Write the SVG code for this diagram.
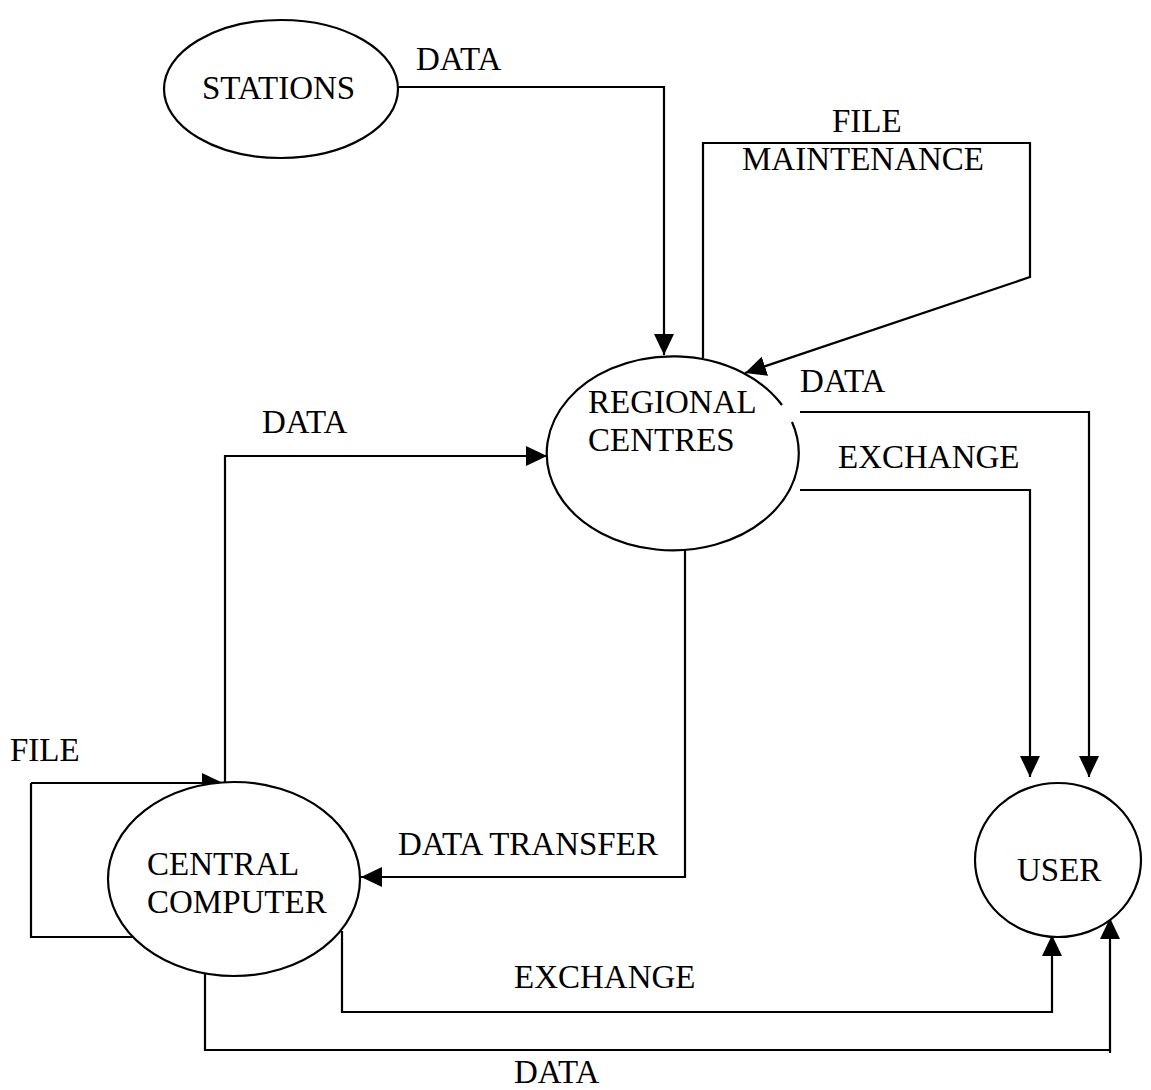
<svg xmlns="http://www.w3.org/2000/svg" width="1151" height="1090" viewBox="0 0 1151 1090">
<defs>
<marker id="arr" markerUnits="userSpaceOnUse" markerWidth="24" markerHeight="22" refX="21" refY="10" orient="auto">
<path d="M0,0 L21,10 L0,20 Z" fill="#000"/>
</marker>
<style>
.node{fill:#fff;stroke:#000;stroke-width:2.2}
.edge{fill:none;stroke:#000;stroke-width:2.2}
text{font-family:"Liberation Serif","Times New Roman",serif;font-size:33px;fill:#000}
</style>
</defs>
<rect width="1151" height="1090" fill="#fff"/>
<g id="connectors">
<path class="edge" d="M398,87 H664 V355" marker-end="url(#arr)"/>
<path class="edge" d="M703,358 V143 H1030 V277 L745,373" marker-end="url(#arr)"/>
<path class="edge" d="M225,783 V456 H547" marker-end="url(#arr)"/>
<path class="edge" d="M31,783 V937 H133"/>
<path class="edge" d="M31,783 H223" marker-end="url(#arr)"/>
<path class="edge" d="M685,549 V877 H361" marker-end="url(#arr)"/>
<path class="edge" d="M800,412 H1089 V777" marker-end="url(#arr)"/>
<path class="edge" d="M800,490 H1030 V777" marker-end="url(#arr)"/>
<path class="edge" d="M342,931 V1012 H1052 V935" marker-end="url(#arr)"/>
<path class="edge" d="M205,973 V1050 H1110 V918" marker-end="url(#arr)"/>
<path class="edge" d="M1110,1050 V1053"/>
<text x="416" y="70">DATA</text>
<text x="832" y="132">FILE</text>
<text x="742" y="170">MAINTENANCE</text>
<text x="800" y="392">DATA</text>
<text x="838" y="468">EXCHANGE</text>
<text x="262" y="433">DATA</text>
<text x="10" y="761">FILE</text>
<text x="398" y="855">DATA TRANSFER</text>
<text x="514" y="988">EXCHANGE</text>
<text x="514" y="1083">DATA</text>
</g>
<g id="stations">
<ellipse class="node" cx="281" cy="89" rx="117" ry="69"/>
<text x="202" y="99">STATIONS</text>
</g>
<g id="regional-centres">
<path class="node" d="M792,422 A126,97 0 1 1 782,405"/>
<text x="588" y="413">REGIONAL</text>
<text x="588" y="451">CENTRES</text>
</g>
<g id="central-computer">
<ellipse class="node" cx="234" cy="879" rx="126" ry="97"/>
<text x="147" y="875">CENTRAL</text>
<text x="147" y="913">COMPUTER</text>
</g>
<g id="user">
<ellipse class="node" cx="1058" cy="860" rx="83" ry="77"/>
<text x="1017" y="881">USER</text>
</g>
</svg>
